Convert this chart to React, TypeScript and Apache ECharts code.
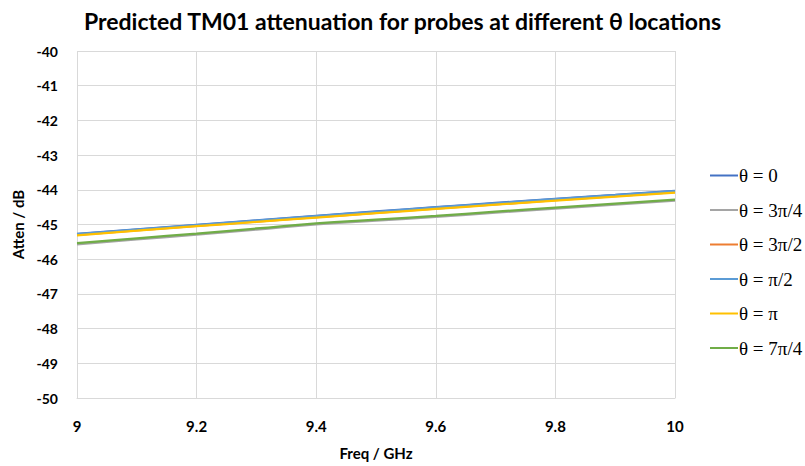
import React, { useEffect, useRef } from "react";
import * as echarts from "echarts";

const freqs = [9, 9.1, 9.2, 9.3, 9.4, 9.5, 9.6, 9.7, 9.8, 9.9, 10];
const theta0 = [-45.27, -45.14, -45.01, -44.88, -44.75, -44.625, -44.5, -44.38, -44.26, -44.145, -44.03];
const theta3pi4 = [-45.57, -45.43, -45.29, -45.145, -45.0, -44.89, -44.78, -44.66, -44.545, -44.43, -44.31];
const theta3pi2 = [-45.3, -45.17, -45.04, -44.915, -44.79, -44.665, -44.54, -44.42, -44.3, -44.185, -44.07];
const thetaPi2 = [-45.28, -45.15, -45.02, -44.89, -44.76, -44.635, -44.51, -44.39, -44.27, -44.155, -44.04];
const thetaPi = [-45.31, -45.18, -45.05, -44.925, -44.8, -44.675, -44.55, -44.43, -44.31, -44.195, -44.08];
const theta7pi4 = [-45.54, -45.4, -45.26, -45.115, -44.97, -44.86, -44.75, -44.63, -44.515, -44.4, -44.28];

const seriesNames = ["θ = 0", "θ = 3π/4", "θ = 3π/2", "θ = π/2", "θ = π", "θ = 7π/4"];
const seriesData = [theta0, theta3pi4, theta3pi2, thetaPi2, thetaPi, theta7pi4];
const seriesColors = ["#4472C4", "#A5A5A5", "#ED7D31", "#5B9BD5", "#FFC000", "#70AD47"];

const xTicks = [9, 9.2, 9.4, 9.6, 9.8, 10];

export default function App() {
  const ref = useRef<HTMLDivElement>(null);
  useEffect(() => {
    if (!ref.current) return;
    const chart = echarts.init(ref.current, null, { renderer: "svg" });
    const font = "Lato, 'Open Sans', sans-serif";
    chart.setOption({
      animation: false,
      backgroundColor: "#ffffff",
      title: {
        text: "Predicted TM01 attenuation for probes at different θ locations",
        left: "center",
        top: 4,
        textStyle: { fontFamily: font, fontWeight: "bold", fontSize: 23, color: "#000" },
      },
      legend: {
        orient: "vertical",
        left: 705,
        top: 161,
        itemGap: 15.5,
        itemWidth: 28,
        itemHeight: 20,
        icon: "path://M0,9 L28,9 L28,11 L0,11 Z",
        data: seriesNames,
        textStyle: { fontFamily: "'Liberation Serif', 'Times New Roman', serif", fontSize: 19, color: "#000", padding: [0, 0, 0, -4] },
      },
      grid: { left: 77, right: 130, top: 51, bottom: 68 },
      xAxis: {
        type: "value",
        min: 9,
        max: 10,
        interval: 0.2,
        name: "Freq / GHz",
        nameLocation: "middle",
        nameGap: 47,
        nameTextStyle: { fontFamily: font, fontWeight: "bold", fontSize: 15, color: "#000" },
        axisLine: { show: true, lineStyle: { color: "#d9d9d9", width: 1 } },
        axisTick: { show: false },
        splitLine: { show: true, lineStyle: { color: "#d9d9d9", width: 1 } },
        axisLabel: {
          margin: 20,
          fontFamily: font,
          fontWeight: "bold",
          fontSize: 15,
          color: "#000",
          formatter: (v: number) => {
            const t = xTicks.find((x) => Math.abs(x - v) < 1e-6);
            return t === undefined ? "" : String(t);
          },
        },
      },
      yAxis: {
        type: "value",
        min: -50,
        max: -40,
        interval: 1,
        name: "Atten / dB",
        nameLocation: "middle",
        nameGap: 49,
        nameTextStyle: { fontFamily: font, fontWeight: "bold", fontSize: 15, color: "#000" },
        axisLine: { show: false },
        axisTick: { show: false },
        splitLine: { show: true, lineStyle: { color: "#d9d9d9", width: 1 } },
        axisLabel: { margin: 19, fontFamily: font, fontWeight: "bold", fontSize: 14, color: "#000" },
      },
      series: seriesNames.map((name, i) => ({
        name,
        type: "line",
        showSymbol: false,
        symbol: "none",
        smooth: true,
        color: seriesColors[i],
        lineStyle: { width: 2.25, color: seriesColors[i] },
        data: freqs.map((f, j) => [f, seriesData[i][j]]),
      })),
    });
    return () => chart.dispose();
  }, []);
  return <div ref={ref} style={{ width: 805, height: 466, position: "fixed", left: 0, top: 0 }} />;
}
